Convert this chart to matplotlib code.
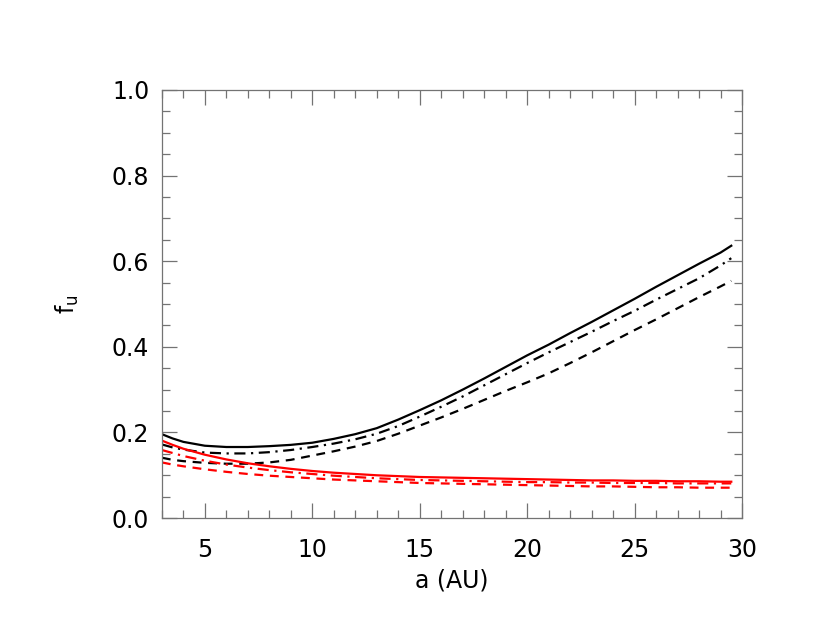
import numpy as np
import matplotlib
matplotlib.use('Agg')
import matplotlib.pyplot as plt
from matplotlib.ticker import MultipleLocator

# semi-major axis (AU)
a = [3, 3.5, 4, 5, 6, 7, 8, 9, 10, 11, 12, 13, 14, 15, 16, 17, 18, 19, 20,
     21, 22, 23, 24, 25, 26, 27, 28, 29, 29.5]

# black curves
blk_solid = [0.196, 0.186, 0.178, 0.169, 0.166, 0.166, 0.168, 0.171, 0.176, 0.185,
             0.196, 0.210, 0.230, 0.252, 0.275, 0.300, 0.326, 0.353, 0.380,
             0.405, 0.432, 0.458, 0.485, 0.512, 0.540, 0.567, 0.594, 0.620, 0.636]
blk_dashdot = [0.172, 0.165, 0.160, 0.153, 0.151, 0.151, 0.154, 0.159, 0.166, 0.174,
               0.184, 0.197, 0.215, 0.237, 0.260, 0.284, 0.310, 0.336, 0.362,
               0.387, 0.411, 0.435, 0.460, 0.484, 0.510, 0.535, 0.560, 0.590, 0.607]
blk_dashed = [0.141, 0.136, 0.133, 0.129, 0.127, 0.127, 0.130, 0.136, 0.146, 0.156,
              0.167, 0.180, 0.197, 0.216, 0.235, 0.255, 0.276, 0.297, 0.317,
              0.338, 0.362, 0.387, 0.413, 0.439, 0.464, 0.490, 0.516, 0.541, 0.554]

# red curves
red_solid = [0.181, 0.171, 0.162, 0.148, 0.137, 0.128, 0.121, 0.115, 0.110, 0.106,
             0.103, 0.100, 0.098, 0.096, 0.095, 0.094, 0.093, 0.092, 0.091,
             0.090, 0.089, 0.088, 0.088, 0.087, 0.087, 0.086, 0.086, 0.085, 0.085]
red_dashdot = [0.159, 0.152, 0.145, 0.134, 0.125, 0.118, 0.112, 0.107, 0.103, 0.099,
               0.096, 0.093, 0.091, 0.089, 0.088, 0.087, 0.086, 0.085, 0.084,
               0.084, 0.083, 0.083, 0.082, 0.082, 0.082, 0.081, 0.081, 0.081, 0.081]
red_dashed = [0.130, 0.125, 0.121, 0.114, 0.108, 0.103, 0.099, 0.096, 0.093, 0.090,
              0.088, 0.086, 0.084, 0.082, 0.081, 0.080, 0.079, 0.078, 0.077,
              0.076, 0.075, 0.074, 0.074, 0.073, 0.072, 0.072, 0.071, 0.071, 0.071]

xticks = [5, 10, 15, 20, 25, 30]
yticks = [0.0, 0.2, 0.4, 0.6, 0.8, 1.0]
ylabels = ['0.0', '0.2', '0.4', '0.6', '0.8', '1.0']

plt.rcParams['font.family'] = 'DejaVu Sans'

fig = plt.figure(figsize=(8.3, 6.42), dpi=100)
ax = fig.add_axes([0.195, 0.193, 0.699, 0.667])

lw = 1.6
dash = (0, (4, 3))
dashdot = (0, (5, 2.5, 1, 2.5))
ax.plot(a, blk_solid, color='black', lw=lw)
ax.plot(a, blk_dashdot, color='black', lw=lw, linestyle=dashdot)
ax.plot(a, blk_dashed, color='black', lw=lw, linestyle=dash)
ax.plot(a, red_solid, color='red', lw=lw)
ax.plot(a, red_dashdot, color='red', lw=lw, linestyle=dashdot)
ax.plot(a, red_dashed, color='red', lw=lw, linestyle=dash)

ax.set_xlim(3, 30)
ax.set_ylim(0, 1.0)
ax.set_xticks(xticks)
ax.set_yticks(yticks)
ax.set_yticklabels(ylabels)
ax.xaxis.set_minor_locator(MultipleLocator(1))
ax.yaxis.set_minor_locator(MultipleLocator(0.05))

for s in ax.spines.values():
    s.set_color('0.45')
    s.set_linewidth(0.9)
ax.tick_params(which='both', direction='in', top=True, right=True, color='0.45', width=0.9)
ax.tick_params(which='major', length=11, labelsize=17)
ax.tick_params(which='minor', length=6)
ax.tick_params(axis='x', pad=14)
ax.tick_params(axis='y', pad=9)

ax.set_xlabel('a (AU)', fontsize=17, labelpad=5)
ax.set_ylabel('f$_\\mathregular{u}$', fontsize=17, labelpad=22)

plt.savefig('out.png', dpi=100)
